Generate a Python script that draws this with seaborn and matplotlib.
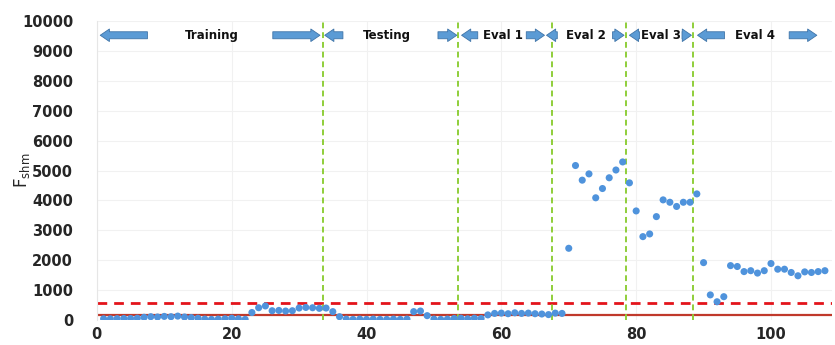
import numpy as np
import pandas as pd
import matplotlib
matplotlib.use("Agg")
import matplotlib.pyplot as plt
import seaborn as sns

# ---- data ----
fshm = [40, 40, 45, 50, 50, 60,
        90, 110, 100, 120, 110, 130,
        100, 80, 60, 30, 20, 30, 40, 60, 40, 20,
        250, 410, 470, 310, 320, 300, 310, 400, 420, 410, 390, 400, 280, 110,
        30, 20, 30, 20, 30, 20, 20, 30, 20, 30,
        280, 300, 145,
        30, 20, 30,
        50, 60, 40, 60, 50,
        170,
        220, 230, 210, 240, 220, 230, 210, 200, 180, 230, 220,
        2400, 5170, 4680, 4890, 4090, 4400, 4760, 5020, 5290,
        4590, 3650, 2790, 2880, 3460, 4020, 3940, 3800, 3940, 3940,
        4220,
        1920, 840, 610, 780, 1820, 1790, 1620, 1650, 1570, 1650, 1890, 1700,
        1700, 1590, 1480, 1610, 1590, 1620, 1650]
sample = list(range(1, len(fshm) + 1))

threshold_solid = 170
threshold_dashed = 580
phase_bounds = [33.5, 53.5, 67.5, 78.5, 88.5]

phase_labels = ["Training", "Testing", "Eval 1", "Eval 2", "Eval 3", "Eval 4"]
label_x = [17.1, 43.0, 60.3, 72.6, 83.7, 97.6]
left_arrows = [(0.5, 7.5), (33.8, 36.5), (54.1, 56.5), (66.7, 68.3), (79.0, 80.5), (89.1, 93.1)]
right_arrows = [(26.1, 33.1), (50.6, 53.4), (63.7, 66.4), (76.5, 78.2), (86.8, 88.2), (102.7, 106.8)]
annot_y = 9530

df = pd.DataFrame({"sample": sample, "Fshm": fshm})

sns.set_style("white")
plt.rcParams['font.family'] = ['DejaVu Sans']

fig = plt.figure(figsize=(8.35, 3.45), dpi=100)
ax = fig.add_axes([0.116, 0.0725, 0.880, 0.866])

ax.set_xlim(0, 109)
ax.set_ylim(0, 10000)
ax.set_xticks([0, 20, 40, 60, 80, 100])
ax.set_yticks(range(0, 10001, 1000))
ax.grid(True, color="#f1f1f1", lw=0.8)
ax.set_axisbelow(True)

sns.scatterplot(data=df, x="sample", y="Fshm", ax=ax, color="#4f93dc",
                s=26, edgecolor="none", zorder=3)

ax.axhline(threshold_solid, color="#c0392b", lw=1.6, zorder=2)
ax.axhline(threshold_dashed, color="#e3141b", lw=2.0, ls=(0, (3.5, 2.5)), zorder=2)
for b in phase_bounds:
    ax.axvline(b, color="#8fce3a", lw=1.4, ls=(0, (3, 2)), zorder=2)

arrow_style = "simple,head_width=0.75,head_length=0.55,tail_width=0.42"
for (a, b) in left_arrows:
    ax.annotate("", xy=(a, annot_y), xytext=(b, annot_y),
                arrowprops=dict(arrowstyle=arrow_style, fc="#5b9bd5", ec="#3f74a8",
                                lw=0.6, shrinkA=0, shrinkB=0, mutation_scale=12),
                zorder=4)
for (a, b) in right_arrows:
    ax.annotate("", xy=(b, annot_y), xytext=(a, annot_y),
                arrowprops=dict(arrowstyle=arrow_style, fc="#5b9bd5", ec="#3f74a8",
                                lw=0.6, shrinkA=0, shrinkB=0, mutation_scale=12),
                zorder=4)
for lab, lx in zip(phase_labels, label_x):
    ax.text(lx, annot_y, lab, ha="center", va="center", fontsize=8.5,
            fontweight="bold", color="#111111", zorder=5)

for s in ["top", "right", "bottom"]:
    ax.spines[s].set_visible(False)
ax.spines["left"].set_color("#e6e6e6")

ax.tick_params(axis="y", length=0, labelsize=10.5, pad=17)
ax.tick_params(axis="x", length=0, labelsize=10.5, pad=5)
for t in ax.get_xticklabels() + ax.get_yticklabels():
    t.set_fontweight("bold")
ax.set_xlabel("")
ax.set_ylabel(r"F$_{\mathrm{shm}}$", fontsize=12)
ax.yaxis.set_label_coords(-0.088, 0.5)

fig.savefig("out.png", dpi=100, facecolor="white")
